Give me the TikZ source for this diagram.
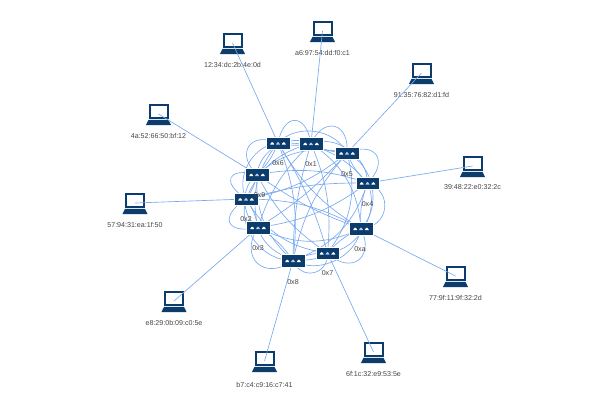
\documentclass[tikz,border=0pt]{standalone}
\usepackage{fontspec}
\setmainfont{Liberation Sans}
\definecolor{navy}{HTML}{0B3C6B}
\definecolor{linkc}{HTML}{78A9F0}
\definecolor{txt}{HTML}{444444}
\pgfdeclarelayer{hostlayer}\pgfdeclarelayer{edgelayer}
\pgfsetlayers{hostlayer,edgelayer,main}
\tikzset{
 link/.style={draw=linkc,line width=0.65pt},
 lab/.style={text=txt,font=\fontsize{7.1}{8}\selectfont,inner sep=0pt},
 swbox/.style={rectangle,fill=navy,draw=white,line width=0.4pt,minimum width=23.5pt,minimum height=12.5pt,inner sep=0pt,
  path picture={
   \foreach \dx/\c in {-5.8/white,0/linkc!60!white,5.8/white}{
    \fill[\c] ([xshift=\dx pt-2pt,yshift=-1.6pt]path picture bounding box.center) -- ++(4pt,0) -- ++(-.6pt,1.3pt) arc(0:180:1.4pt and 1.3pt) -- cycle;}
  }},
 hostbox/.style={rectangle,minimum width=26pt,minimum height=22pt,inner sep=0pt,
  path picture={
   \coordinate (c) at (path picture bounding box.center);
   \fill[navy] ([shift={(-10pt,10pt)}]c) rectangle ([shift={(10pt,-5pt)}]c);
   \fill[white] ([shift={(-8pt,8.4pt)}]c) rectangle ([shift={(8pt,-3.4pt)}]c);
   \fill[navy] ([shift={(-10pt,-5.8pt)}]c) -- ([shift={(10pt,-5.8pt)}]c) -- ([shift={(12.5pt,-11pt)}]c) -- ([shift={(-12.5pt,-11pt)}]c) -- cycle;
  }},
}
\begin{document}
\begin{tikzpicture}[x=1pt,y=-1pt]
\useasboundingbox (0,0) rectangle (600,400);
% switches
\foreach \n/\x/\y/\t/\lx/\ly in {0/278/143/0x6/278/163.5,1/311/143.5/0x1/311/164.5,2/347/153/0x5/347/174,3/367.5/183/0x4/367.5/204.5,4/361/228.5/0xa/360/249.5,5/327.5/253/0x7/327.5/273.5,6/293/260.5/0x8/293/282,7/258/227.5/0x3/258/248.5,8/246/199/0x2/246/219.5,9/257/174.5/0x9/259.5/195.5}{
  \node[swbox] (sw\n) at (\x,\y) {};
  \node[lab] (swl\n) at (\lx,\ly) {\t};
}
% hosts
\begin{pgfonlayer}{hostlayer}
\foreach \n/\x/\y/\t/\ly in {0/232.5/43/12:34:dc:2b:4e:0d/64.5,1/322.5/31/a6:97:54:dd:f0:c1/53,2/421.5/73/91:35:76:82:d1:fd/94.5,3/472.5/166/39:48:22:e0:32:2c/187.5,4/455.5/276/77:9f:11:9f:32:2d/297.5,5/373.5/352/6f:1c:32:e9:53:5e/373.5,6/264.5/361/b7:c4:c9:16:c7:41/385,7/174/301/e8:29:0b:09:c0:5e/322.5,8/135/203/57:94:31:ea:1f:50/224.5,9/158.5/114/4a:52:66:50:bf:12/135.5}{
  \node[hostbox] (h\n) at (\x,\y) {};
  \node[lab] (hl\n) at (\x,\ly) {\t};
}
\end{pgfonlayer}
\begin{pgfonlayer}{edgelayer}
\foreach \n in {0,...,9}{ \draw[link] (h\n.center) -- (sw\n.center); }
% neighbouring switches: outer lobes
\foreach \i/\j/\lo in {0/1/2.4,1/2/2.1,2/3/2.2,3/4/1.55,4/5/2.0,5/6/1.6,6/7/1.9,7/8/2.7,8/9/2.9,9/0/2.05}{
  \draw[link] (sw\i.center) to[bend left=80,looseness=\lo] (sw\j.center);
  \draw[link] (sw\i.center) to[bend right=12] (sw\j.center);
}
% all other pairs
\foreach \i in {0,...,8}{
 \pgfmathtruncatemacro{\st}{\i+1}
 \foreach \j in {\st,...,9}{
  \pgfmathtruncatemacro{\s}{min(\j-\i,10-\j+\i)}
  \ifnum\s>1
  \pgfmathtruncatemacro{\b}{\s==2?55:(\s==3?26:(\s==4?14:8))}
  \pgfmathtruncatemacro{\w}{\s<4?1:mod(\i+\s,2)}
  \ifnum\j>\numexpr\i+5\relax
   \ifnum\w=1
    \draw[link] (sw\j.center) to[bend left=\b] (sw\i.center);
   \else
    \draw[link] (sw\j.center) to[bend right=\b] (sw\i.center);
   \fi
  \else
   \ifnum\w=1
    \draw[link] (sw\i.center) to[bend left=\b] (sw\j.center);
   \else
    \draw[link] (sw\i.center) to[bend right=\b] (sw\j.center);
   \fi
  \fi
  \fi
 }
}
\end{pgfonlayer}
\end{tikzpicture}
\end{document}
